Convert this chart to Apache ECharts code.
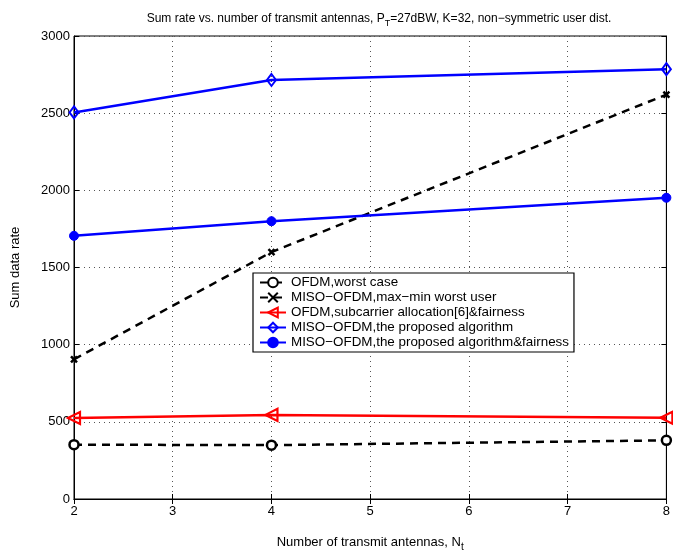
<!DOCTYPE html>
<html>
<head>
<meta charset="utf-8">
<script src="https://cdn.jsdelivr.net/npm/echarts@6/dist/echarts.min.js"></script>
<style>html,body{margin:0;padding:0;background:#fff}#c{width:673px;height:557px}</style>
</head>
<body>
<div id="c"></div>
<script>
// Data
const antennas = [2, 4, 8];
const ofdmWorst = [352, 349, 380];
const misoMaxMin = [905, 1600, 2620];
const ofdmSubcarrier = [525, 545, 527];
const misoProposed = [2505, 2715, 2785];
const misoProposedFair = [1705, 1800, 1952];
const xTicks = [2, 3, 4, 5, 6, 7, 8];
const yTicks = [0, 500, 1000, 1500, 2000, 2500, 3000];

const names = [
  'OFDM,worst case',
  'MISO\u2212OFDM,max\u2212min worst user',
  'OFDM,subcarrier allocation[6]&fairness',
  'MISO\u2212OFDM,the proposed algorithm',
  'MISO\u2212OFDM,the proposed algorithm&fairness'
];

function pts(ys){ return antennas.map((x,i)=>[x, ys[i]]); }

const font = 'Liberation Sans, Arial, Helvetica, sans-serif';
const chart = echarts.init(document.getElementById('c'), null, {renderer:'canvas'});

const gridLine = {show:true, lineStyle:{color:'#555', type:[1,4], width:1}};

chart.setOption({
  animation:false,
  backgroundColor:'#fff',
  textStyle:{fontFamily:font},
  title:{
    text:'Sum rate vs. number of transmit antennas, P{s|T}=27dBW, K=32, non\u2212symmetric user dist.',
    left:374, top:5, textAlign:'center',
    textStyle:{fontFamily:font, fontSize:12, fontWeight:'normal', color:'#000',
      rich:{s:{fontSize:9, fontFamily:font, color:'#000', padding:[9,0,0,0]}}}
  },
  grid:{left:74, right:3, top:36, bottom:49, show:true, borderColor:'#000', borderWidth:1, backgroundColor:'transparent'},
  legend:{
    orient:'vertical', left:253, top:273,
    data:names,
    backgroundColor:'#fff', borderColor:'#000', borderWidth:1.2,
    padding:[3,5,3,6], itemGap:2, itemWidth:26, itemHeight:12,
    textStyle:{fontFamily:font, fontSize:13.4, color:'#000'}
  },
  xAxis:[{
    type:'value', min:2, max:8, interval:1,
    name:'Number of transmit antennas, N{s|t}', nameLocation:'middle', nameGap:33,
    nameTextStyle:{fontFamily:font, fontSize:13, color:'#000', rich:{s:{fontSize:10, fontFamily:font, color:'#000', padding:[10,0,0,0]}}},
    axisLine:{lineStyle:{color:'#000'}},
    axisTick:{inside:true, length:5, lineStyle:{color:'#000'}},
    axisLabel:{color:'#000', fontSize:13, fontFamily:font, margin:6,
      formatter:v=>xTicks.includes(v)?String(v):''},
    splitLine:gridLine
  },{
    type:'value', min:2, max:8, interval:1, position:'top',
    axisLine:{lineStyle:{color:'#000'}},
    axisTick:{inside:true, length:5, lineStyle:{color:'#000'}},
    axisLabel:{show:false}, splitLine:{show:false}
  }],
  yAxis:[{
    type:'value', min:0, max:3000, interval:500,
    name:'Sum data rate', nameLocation:'middle', nameGap:52,
    nameTextStyle:{fontFamily:font, fontSize:13, color:'#000'},
    axisLine:{lineStyle:{color:'#000'}},
    axisTick:{inside:true, length:5, lineStyle:{color:'#000'}},
    axisLabel:{color:'#000', fontSize:13, fontFamily:font, margin:4,
      formatter:v=>yTicks.includes(v)?String(v):''},
    splitLine:gridLine
  },{
    type:'value', min:0, max:3000, interval:500, position:'right',
    axisLine:{lineStyle:{color:'#000'}},
    axisTick:{inside:true, length:5, lineStyle:{color:'#000'}},
    axisLabel:{show:false}, splitLine:{show:false}
  }],
  series:[
    {name:names[0], type:'line', data:pts(ofdmWorst), color:'#000',
     symbol:'circle', symbolSize:9,
     lineStyle:{color:'#000', width:2.5, type:[8,6]},
     itemStyle:{color:'#fff', borderColor:'#000', borderWidth:2.5}, z:3},
    {name:names[1], type:'line', data:pts(misoMaxMin), color:'#000',
     symbol:'path://M0,0L10,10M10,0L0,10', symbolSize:6,
     lineStyle:{color:'#000', width:2.5, type:[8,6]},
     itemStyle:{color:'#000', borderColor:'#000', borderWidth:2.5}, z:3},
    {name:names[2], type:'line', data:pts(ofdmSubcarrier), color:'#f00',
     symbol:'path://M0,5L10,0L10,10Z', symbolSize:[12,12],
     lineStyle:{color:'#f00', width:2.5},
     itemStyle:{color:'rgba(255,255,255,0)', borderColor:'#f00', borderWidth:2.2}, z:3},
    {name:names[3], type:'line', data:pts(misoProposed), color:'#00f',
     symbol:'diamond', symbolSize:[9,12],
     lineStyle:{color:'#00f', width:2.5},
     itemStyle:{color:'rgba(255,255,255,0)', borderColor:'#00f', borderWidth:2}, z:3},
    {name:names[4], type:'line', data:pts(misoProposedFair), color:'#00f',
     symbol:'circle', symbolSize:9,
     lineStyle:{color:'#00f', width:2.5},
     itemStyle:{color:'#00f', borderColor:'#00f', borderWidth:1}, z:3}
  ]
});
</script>
</body>
</html>
